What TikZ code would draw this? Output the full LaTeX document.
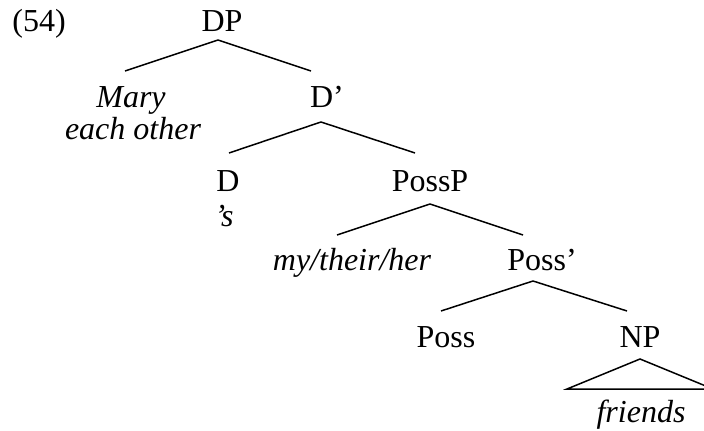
\documentclass[tikz,border=0pt]{standalone}
\usepackage{fontspec}
\setmainfont{Liberation Serif}
\usepackage{tikz}
\usetikzlibrary{calc}
\tikzstyle{cat} = [inner sep=0pt, anchor=base, font=\fontsize{16pt}{16pt}\selectfont]
\tikzstyle{word} = [cat, font=\fontsize{16pt}{16pt}\selectfont\itshape]
\tikzstyle{branch} = [line width=0.75pt]

\begin{document}
\begin{tikzpicture}[x=0.5pt, y=-0.5pt]
\useasboundingbox (0,0) rectangle (704,431);

% Example number
\node (exnum) [cat, anchor=base west] at (12,32) {(54)};

% Categories
\node (DP) [cat] at (222,32) {DP};
\node (Dbar) [cat] at (327,108) {D’};
\node (D) [cat] at (228,192) {D};
\node (PossP) [cat] at (430,192) {PossP};
\node (Possbar) [cat] at (542,271) {Poss’};
\node (Poss) [cat] at (446,348) {Poss};
\node (NP) [cat] at (640,348) {NP};

% Words
\node (mary) [word] at (131,108) {Mary};
\node (eachother) [word] at (133,140) {each other};
\node (poss-s) [word] at (224,227) {’s};
\node (myher) [word] at (352,271) {my/their/her};
\node (friends) [word] at (641,422) {friends};

% Branches
\draw [branch] ($(DP.base)+(-4,8)$) -- ($(mary.base)+(-6,-37)$);
\draw [branch] ($(DP.base)+(-4,8)$) -- ($(Dbar.base)+(-16,-37)$);
\draw [branch] ($(Dbar.base)+(-6,14)$) -- ($(D.base)+(1,-39)$);
\draw [branch] ($(Dbar.base)+(-6,14)$) -- ($(PossP.base)+(-15,-39)$);
\draw [branch] ($(PossP.base)+(0,12)$) -- ($(myher.base)+(-15,-36)$);
\draw [branch] ($(PossP.base)+(0,12)$) -- ($(Possbar.base)+(-19,-36)$);
\draw [branch] ($(Possbar.base)+(-9,10)$) -- ($(Poss.base)+(-5,-37)$);
\draw [branch] ($(Possbar.base)+(-9,10)$) -- ($(NP.base)+(-13,-37)$);

% Triangle
\draw [branch] ($(NP.base)+(0,11)$) -- ($(friends.base)+(-74,-33)$) -- ($(friends.base)+(72,-33)$) -- cycle;

\end{tikzpicture}
\end{document}
